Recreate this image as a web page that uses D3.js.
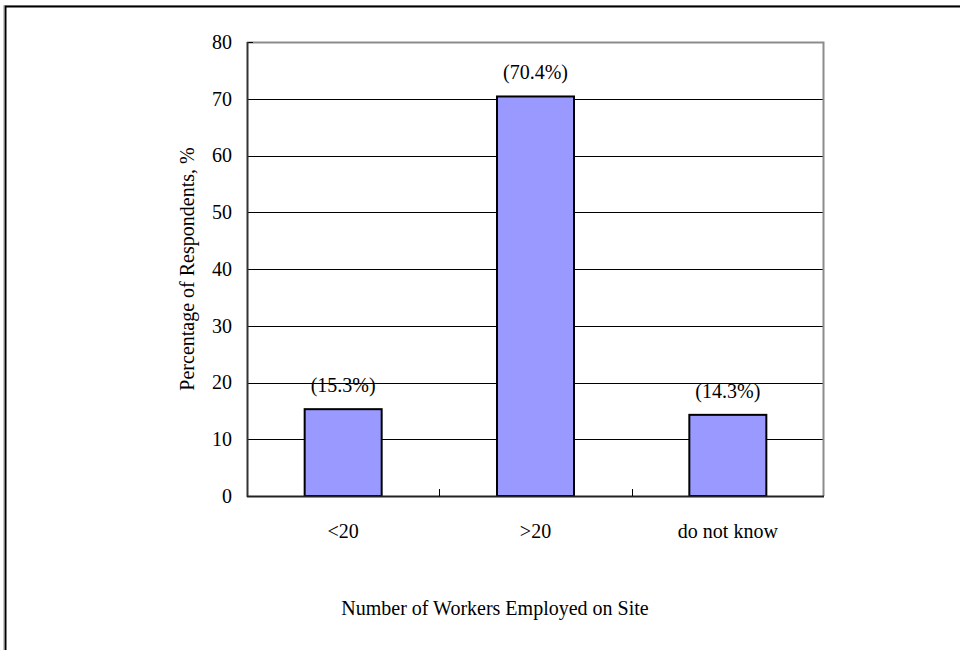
<!DOCTYPE html>
<html>
<head>
<meta charset="utf-8">
<script src="https://cdn.jsdelivr.net/npm/d3@7/dist/d3.min.js"></script>
<style>
  html, body { margin: 0; padding: 0; background: #fff; }
  svg { display: block; }
  text { font-family: "Liberation Serif", "Times New Roman", serif; fill: #000; }
</style>
</head>
<body>
<svg id="chart" width="960" height="650"></svg>
<script>
// Survey responses: size of the workforce on site
const categories = ["<20", ">20", "do not know"];
const percentages = [15.3, 70.4, 14.3];
const valueLabels = ["(15.3%)", "(70.4%)", "(14.3%)"];
const yTicks = [0, 10, 20, 30, 40, 50, 60, 70, 80];
const yTitle = "Percentage of Respondents, %";
const xTitle = "Number of Workers Employed on Site";

const FONT = "Liberation Serif, Times New Roman, serif";
const svg = d3.select("#chart");

// Outer frame (only top and left edges fall inside the view)
svg.append("path")
  .attr("d", "M3.5,650 V5.5 H960")
  .attr("fill", "none")
  .attr("stroke", "#c8c8c8")
  .attr("stroke-width", 1);
svg.append("path")
  .attr("d", "M5.5,650 V6.5 H960")
  .attr("fill", "none")
  .attr("stroke", "#000")
  .attr("stroke-width", 2);

const plot = { left: 247, right: 824, top: 42, bottom: 496 };

const x = d3.scaleBand()
  .domain(categories)
  .range([plot.left, plot.right])
  .paddingInner(0)
  .paddingOuter(0);

const y = d3.scaleLinear()
  .domain([0, 80])
  .range([plot.bottom, plot.top]);

const barWidth = 77;

// Horizontal gridlines
svg.append("g")
  .selectAll("line")
  .data(yTicks.filter(d => d > 0 && d < 80))
  .join("line")
  .attr("x1", plot.left)
  .attr("x2", plot.right)
  .attr("y1", d => Math.round(y(d)) + 0.5)
  .attr("y2", d => Math.round(y(d)) + 0.5)
  .attr("stroke", "#000")
  .attr("stroke-width", 1);

// Plot area top and right border
svg.append("path")
  .attr("d", `M${plot.left},${plot.top + 0.5} H${plot.right - 0.5} V${plot.bottom}`)
  .attr("fill", "none")
  .attr("stroke", "#8c8c8c")
  .attr("stroke-width", 2);

// Bars
svg.append("g")
  .selectAll("rect")
  .data(percentages)
  .join("rect")
  .attr("x", (d, i) => x(categories[i]) + x.bandwidth() / 2 - barWidth / 2)
  .attr("y", d => y(d))
  .attr("width", barWidth)
  .attr("height", d => y(0) - y(d))
  .attr("fill", "#9999ff")
  .attr("stroke", "#000")
  .attr("stroke-width", 2);

// Value labels above bars
svg.append("g")
  .selectAll("text")
  .data(percentages)
  .join("text")
  .attr("x", (d, i) => x(categories[i]) + x.bandwidth() / 2)
  .attr("y", d => y(d) - 17)
  .attr("text-anchor", "middle")
  .attr("font-size", 20)
  .attr("font-family", FONT)
  .text((d, i) => valueLabels[i]);

// Y axis
const yAxis = d3.axisLeft(y)
  .tickValues(yTicks)
  .tickSize(0)
  .tickPadding(15)
  .tickFormat(d3.format("d"));
const gy = svg.append("g")
  .attr("transform", `translate(${plot.left},0)`)
  .call(yAxis);
gy.select(".domain").remove();
gy.attr("font-family", FONT).attr("font-size", 20);
gy.selectAll(".tick text").attr("fill", "#000");
// inward ticks
svg.append("g")
  .selectAll("line")
  .data(yTicks)
  .join("line")
  .attr("x1", plot.left)
  .attr("x2", plot.left + 6)
  .attr("y1", d => Math.round(y(d)) + 0.5)
  .attr("y2", d => Math.round(y(d)) + 0.5)
  .attr("stroke", "#000");
svg.append("line")
  .attr("x1", plot.left + 0.5).attr("x2", plot.left + 0.5)
  .attr("y1", plot.top).attr("y2", plot.bottom + 1)
  .attr("stroke", "#333")
  .attr("stroke-width", 2);

// X axis
const gx = svg.append("g")
  .attr("transform", `translate(0,${plot.bottom})`)
  .call(d3.axisBottom(x).tickSize(0).tickPadding(28));
gx.select(".domain").remove();
gx.attr("font-family", FONT).attr("font-size", 20);
gx.selectAll(".tick text").attr("fill", "#000");
svg.append("line")
  .attr("x1", plot.left).attr("x2", plot.right)
  .attr("y1", plot.bottom + 0.5).attr("y2", plot.bottom + 0.5)
  .attr("stroke", "#222")
  .attr("stroke-width", 2);
// Category boundary ticks pointing into the plot
svg.append("g")
  .selectAll("line")
  .data(categories.slice(1))
  .join("line")
  .attr("x1", d => Math.round(x(d)) + 0.5)
  .attr("x2", d => Math.round(x(d)) + 0.5)
  .attr("y1", plot.bottom)
  .attr("y2", plot.bottom - 7)
  .attr("stroke", "#000");

// Axis titles
svg.append("text")
  .attr("transform", `translate(194,${(plot.top + plot.bottom) / 2}) rotate(-90)`)
  .attr("text-anchor", "middle")
  .attr("font-size", 20)
  .attr("font-family", FONT)
  .text(yTitle);

svg.append("text")
  .attr("x", 495)
  .attr("y", 615)
  .attr("text-anchor", "middle")
  .attr("font-size", 20)
  .attr("font-family", FONT)
  .text(xTitle);
</script>
</body>
</html>
